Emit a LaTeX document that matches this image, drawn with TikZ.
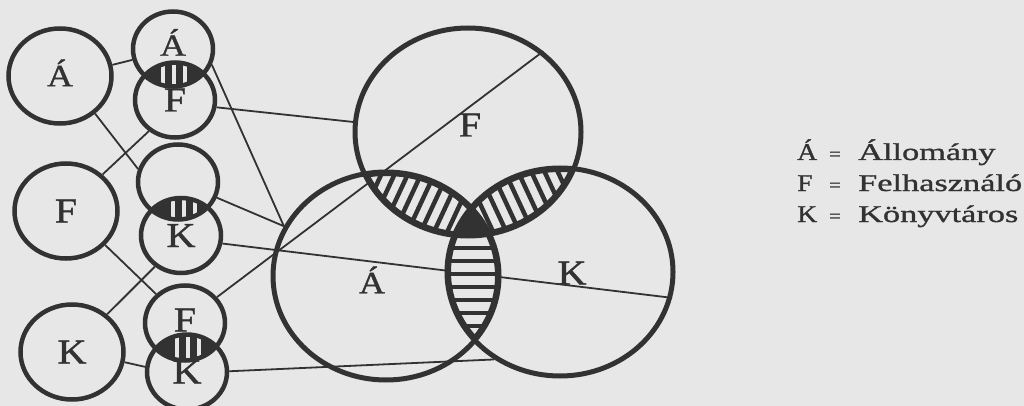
\documentclass[tikz,border=0pt]{standalone}
\usepackage{fontspec}
\usetikzlibrary{shapes.geometric}
\newfontfamily\lblfont[FakeStretch=1.15,FakeBold=1.2]{Liberation Serif}
\newfontfamily\legfont[FakeStretch=1.43,FakeBold=1.2]{Liberation Serif}
\definecolor{paper}{RGB}{231,231,231}
\definecolor{ink}{RGB}{50,50,50}
\pgfdeclarelayer{bg}
\pgfdeclarelayer{lines}
\pgfdeclarelayer{fills}
\pgfsetlayers{bg,lines,fills,main}
\tikzset{
  ring/.style={ellipse, draw=ink, line width=4.5pt, inner sep=0pt, text=ink, text height=23pt, text depth=0pt, font=\lblfont\fontsize{35pt}{35pt}\selectfont},
  asize/.style={font=\lblfont\fontsize{31pt}{31pt}\selectfont, text height=20.5pt},
  bigring/.style={ring, minimum width=103pt, minimum height=95pt},
  smallring/.style={ring, minimum width=80pt, minimum height=75pt},
  vennring/.style={ring, line width=5pt, minimum width=226pt, minimum height=208pt},
  lbl/.style={inner sep=0pt, text=ink, text height=23pt, text depth=0pt, font=\lblfont\fontsize{35pt}{35pt}\selectfont},
  conn/.style={draw=ink, line width=1.8pt},
  hatch/.style={draw=ink, line width=4.5pt},
  rim/.style={draw=ink, line width=8pt},
  slot/.style={draw=paper, line width=4pt},
  legl/.style={anchor=base west, inner sep=0pt, text=ink, font=\lblfont\fontsize{24pt}{24pt}\selectfont},
  legw/.style={anchor=base west, inner sep=0pt, text=ink, font=\legfont\fontsize{24pt}{24pt}\selectfont},
  legeq/.style={anchor=base west, inner sep=0pt, text=ink, font=\lblfont\fontsize{18pt}{18pt}\selectfont},
}
\begin{document}
\begin{tikzpicture}[x=1pt,y=-1pt]
\useasboundingbox (0,0) rectangle (1024,406);
\begin{pgfonlayer}{bg}
\fill[paper] (0,0) rectangle (1024,406);
\end{pgfonlayer}
% left column
\node[bigring, asize] (LA) at (60,76) {Á};
\node[bigring] (LF) at (66,211) {F};
\node[bigring] (LK) at (72,352) {K};
% small pairs
\node[smallring, asize, text depth=7pt] (SA1) at (173,49) {Á};
\node[smallring] (SF1) at (175,100) {F};
\node[smallring] (SE2) at (178,182) {};
\node[smallring] (SK2) at (181,235.5) {K};
\node[smallring, text depth=6pt] (SF3) at (185,323) {F};
\node[smallring] (SK3) at (187,372) {K};
% venn
\node[vennring] (VF) at (468,132) {};
\node[vennring] (VA) at (386,276) {};
\node[vennring] (VK) at (560,272) {};
\node[lbl] (tF) at (470,125) {F};
\node[lbl, asize] (tA) at (372,283) {Á};
\node[lbl] (tK) at (572,273) {K};
% legend
\node[legl] (lgA) at (797,160) {Á};
\node[legeq] (eqA) at (829,160) {=};
\node[legw] (wA) at (858,160) {Állomány};
\node[legl] (lgF) at (797,191) {F};
\node[legeq] (eqF) at (829,191) {=};
\node[legw] (wF) at (858,191) {Felhasználó};
\node[legl] (lgK) at (797,222) {K};
\node[legeq] (eqK) at (829,222) {=};
\node[legw] (wK) at (858,222) {Könyvtáros};
% connectors
\begin{pgfonlayer}{lines}
\draw[conn] (LA.12) -- (SA1.195);
\draw[conn] (LA.-47) -- (SE2.162);
\draw[conn] (LF.45) -- (SF1.-130);
\draw[conn] (LF.-41) -- (SF3.135);
\draw[conn] (LK.47) -- (SK2.-130);
\draw[conn] (LK.-11) -- (SK3.173);
\draw[conn] (SA1.-22) -- (VA.154);
\draw[conn] (SF1.-10) -- (VF.175);
\draw[conn] (SE2.-22) -- (VA.154);
\draw[conn] (SK2.-11) -- (VK.-13);
\draw[conn] (SF3.39) -- (VF.47);
\draw[conn] (SK3.1) -- (VK.-127);
\end{pgfonlayer}
% hatching
\begin{pgfonlayer}{fills}
\begin{scope}
\clip (VF.center) ellipse [x radius=113, y radius=104];
\clip (VA.center) ellipse [x radius=113, y radius=104];
\fill[paper] (250,100) rectangle (700,400);
\begin{scope}[shift={(420,205)}, rotate=-25]
\foreach \i in {-10,...,10} \draw[hatch] (\i*12,-90) -- (\i*12,90);
\end{scope}
\draw[rim] (VF.center) ellipse [x radius=113, y radius=104];
\draw[rim] (VA.center) ellipse [x radius=113, y radius=104];
\end{scope}
\begin{scope}
\clip (VF.center) ellipse [x radius=113, y radius=104];
\clip (VK.center) ellipse [x radius=113, y radius=104];
\fill[paper] (250,100) rectangle (700,400);
\begin{scope}[shift={(518,200)}, rotate=25]
\foreach \i in {-10,...,10} \draw[hatch] (\i*12,-90) -- (\i*12,90);
\end{scope}
\draw[rim] (VF.center) ellipse [x radius=113, y radius=104];
\draw[rim] (VK.center) ellipse [x radius=113, y radius=104];
\end{scope}
\begin{scope}
\clip (VA.center) ellipse [x radius=113, y radius=104];
\clip (VK.center) ellipse [x radius=113, y radius=104];
\fill[paper] (250,100) rectangle (700,400);
\foreach \k in {0,...,10} \draw[hatch] (430,222+\k*13) -- (530,222+\k*13);
\draw[rim] (VA.center) ellipse [x radius=113, y radius=104];
\draw[rim] (VK.center) ellipse [x radius=113, y radius=104];
\end{scope}
\begin{scope}
\clip (VF.center) ellipse [x radius=113, y radius=104];
\clip (VA.center) ellipse [x radius=113, y radius=104];
\fill[ink] (VK.center) ellipse [x radius=113, y radius=104];
\end{scope}
\foreach \a/\b/\c in {SA1/SF1/174, SE2/SK2/184, SF3/SK3/188} {
  \begin{scope}
  \clip (\a.center) ellipse [x radius=40, y radius=37.5];
  \clip (\b.center) ellipse [x radius=40, y radius=37.5];
  \fill[ink] (\c-50,0) rectangle (\c+50,406);
  \foreach \dx in {-11,0,11} \draw[slot] (\c+\dx,0) -- (\c+\dx,406);
  \end{scope}
}
\end{pgfonlayer}
\end{tikzpicture}
\end{document}
